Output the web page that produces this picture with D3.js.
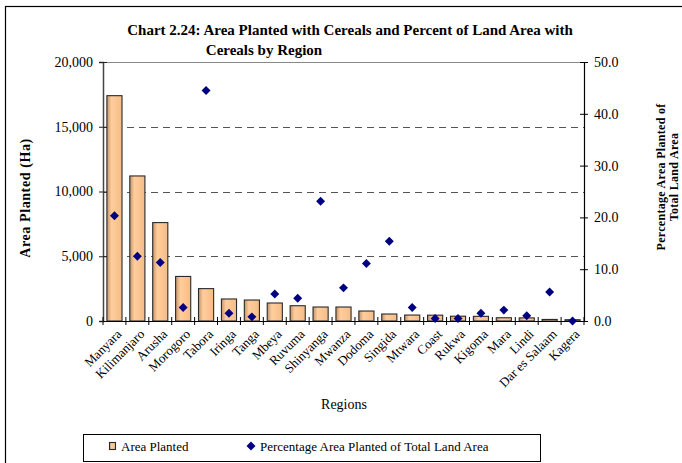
<!DOCTYPE html>
<html>
<head>
<meta charset="utf-8">
<script src="https://cdn.jsdelivr.net/npm/d3@7"></script>
<style>
  html, body { margin: 0; padding: 0; background: #fff; }
  svg { display: block; }
  text { font-family: "Liberation Serif", "Times New Roman", serif; fill: #000; }
</style>
</head>
<body>
<svg id="chart" width="682" height="463"></svg>
<script>
// Regions, ordered by area planted
const regions = ["Manyara", "Kilimanjaro", "Arusha", "Morogoro", "Tabora", "Iringa", "Tanga",
  "Mbeya", "Ruvuma", "Shinyanga", "Mwanza", "Dodoma", "Singida", "Mtwara", "Coast", "Rukwa",
  "Kigoma", "Mara", "Lindi", "Dar es Salaam", "Kagera"];

// Area planted with cereals (ha)
const areaPlanted = [17400, 11200, 7600, 3440, 2500, 1700, 1620, 1390, 1180, 1080, 1080,
  770, 540, 460, 450, 370, 360, 250, 240, 120, 100];

// Percentage of total land area planted with cereals
const pctLand = [20.3, 12.5, 11.3, 2.6, 44.5, 1.5, 0.8, 5.2, 4.4, 23.1, 6.4,
  11.1, 15.4, 2.6, 0.5, 0.5, 1.5, 2.1, 1.0, 5.6, 0.0];

const leftTicks = [0, 5000, 10000, 15000, 20000];
const rightTicks = [0, 10, 20, 30, 40, 50];

const svg = d3.select("#chart");
const W = 682, H = 463;
const plot = { left: 103, right: 584, top: 62, bottom: 321 };

svg.append("rect").attr("width", W).attr("height", H).attr("fill", "#fff");

// outer chart frame
svg.append("rect").attr("x", 5.5).attr("y", 6.5).attr("width", 720).attr("height", 520)
  .attr("fill", "none").attr("stroke", "#000").attr("stroke-width", 1.2);

// bar gradient
const defs = svg.append("defs");
const grad = defs.append("linearGradient").attr("id", "barGrad")
  .attr("x1", "0%").attr("x2", "100%").attr("y1", "0%").attr("y2", "0%");
grad.append("stop").attr("offset", "0%").attr("stop-color", "#c4946a");
grad.append("stop").attr("offset", "30%").attr("stop-color", "#ffcd9c");
grad.append("stop").attr("offset", "100%").attr("stop-color", "#f4bd88");

const x = d3.scaleBand().domain(regions).range([plot.left, plot.right]).paddingInner(0).paddingOuter(0);
const yL = d3.scaleLinear().domain([0, 20000]).range([plot.bottom, plot.top]);
const yR = d3.scaleLinear().domain([0, 50]).range([plot.bottom, plot.top]);

// gridlines
svg.append("g").selectAll("line").data(leftTicks.filter(d => d > 0 && d < 20000)).join("line")
  .attr("x1", plot.left).attr("x2", plot.right)
  .attr("y1", d => Math.round(yL(d)) + 0.5).attr("y2", d => Math.round(yL(d)) + 0.5)
  .attr("stroke", "#555").attr("stroke-width", 1).attr("stroke-dasharray", "7,5");
svg.append("line").attr("x1", plot.left).attr("x2", plot.right)
  .attr("y1", plot.top + 0.5).attr("y2", plot.top + 0.5)
  .attr("stroke", "#888").attr("stroke-width", 1.2);

// bars
const barW = x.bandwidth() * 0.66;
svg.append("g").selectAll("rect").data(regions).join("rect")
  .attr("x", (d) => x(d) + (x.bandwidth() - barW) / 2)
  .attr("y", (d, i) => yL(areaPlanted[i]))
  .attr("width", barW)
  .attr("height", (d, i) => plot.bottom - yL(areaPlanted[i]))
  .attr("fill", "url(#barGrad)")
  .attr("stroke", "#2a2a2a").attr("stroke-width", 1.1);

// left axis
const axL = d3.axisLeft(yL).tickValues(leftTicks).tickFormat(d3.format(",")).tickSize(4).tickPadding(6);
const gL = svg.append("g").attr("transform", `translate(${plot.left},0)`).call(axL);
gL.select(".domain").attr("stroke", "#444").attr("stroke-width", 1.5);
gL.selectAll(".tick line").attr("x1", -4).attr("x2", 4).attr("stroke", "#222");
gL.selectAll(".tick text").attr("font-size", 14).attr("fill", "#222")
  .style("font-family", "'Liberation Serif', serif");

// right axis
const axR = d3.axisRight(yR).tickValues(rightTicks).tickFormat(d3.format(".1f")).tickSize(4).tickPadding(6);
const gR = svg.append("g").attr("transform", `translate(${plot.right},0)`).call(axR);
gR.select(".domain").attr("stroke", "#000").attr("stroke-width", 1.2);
gR.selectAll(".tick line").attr("x1", -4).attr("x2", 4).attr("stroke", "#000");
gR.selectAll(".tick text").attr("font-size", 14).attr("fill", "#222")
  .style("font-family", "'Liberation Serif', serif");

// category axis
const axB = d3.axisBottom(x).tickSize(0).tickFormat("");
const gB = svg.append("g").attr("transform", `translate(0,${plot.bottom})`).call(axB);
gB.select(".domain").attr("stroke", "#000").attr("stroke-width", 1.2);
const boundaries = regions.map(r => x(r)).concat([plot.right]);
svg.append("g").selectAll("line").data(boundaries).join("line")
  .attr("x1", d => d).attr("x2", d => d)
  .attr("y1", plot.bottom - 4).attr("y2", plot.bottom + 4)
  .attr("stroke", "#000").attr("stroke-width", 1);

// percentage markers: square turned 45 degrees
const diamond = d3.symbol().type(d3.symbolSquare).size(40);
svg.append("g").selectAll("path").data(regions).join("path")
  .attr("d", diamond)
  .attr("transform", (d, i) => `translate(${x(d) + x.bandwidth() / 2},${yR(pctLand[i])}) rotate(45)`)
  .attr("fill", "#000080");

// category labels
svg.append("g").selectAll("text").data(regions).join("text")
  .attr("transform", d => `translate(${x(d) + x.bandwidth() / 2 + 1},${plot.bottom + 7}) rotate(-45)`)
  .attr("text-anchor", "end").attr("dy", "0.75em")
  .attr("font-size", 13).attr("fill", "#222")
  .text(d => d);

// title
svg.append("text").attr("x", 350).attr("y", 35).attr("text-anchor", "middle")
  .attr("font-size", 15).attr("font-weight", "bold")
  .text("Chart 2.24: Area Planted with Cereals and Percent of Land Area with");
svg.append("text").attr("x", 264).attr("y", 55).attr("text-anchor", "middle")
  .attr("font-size", 15).attr("font-weight", "bold")
  .text("Cereals by Region");

// axis titles
svg.append("text").attr("transform", "translate(30,198) rotate(-90)")
  .attr("text-anchor", "middle").attr("font-size", 14).attr("font-weight", "bold")
  .attr("letter-spacing", 0.6)
  .text("Area Planted (Ha)");
const rt = svg.append("text").attr("transform", "translate(665,177) rotate(-90)")
  .attr("text-anchor", "middle").attr("font-size", 12).attr("font-weight", "bold")
  .attr("letter-spacing", 0.3);
rt.append("tspan").attr("x", 0).attr("dy", 0).text("Percentage Area Planted of");
rt.append("tspan").attr("x", 0).attr("dy", 13).text("Total Land Area");

svg.append("text").attr("x", 344).attr("y", 409).attr("text-anchor", "middle")
  .attr("font-size", 14).attr("fill", "#222").text("Regions");

// legend
const lg = svg.append("g");
lg.append("rect").attr("x", 83.5).attr("y", 434.5).attr("width", 457).attr("height", 27)
  .attr("fill", "#fff").attr("stroke", "#000").attr("stroke-width", 1);
lg.append("rect").attr("x", 109.5).attr("y", 442.5).attr("width", 6).attr("height", 7)
  .attr("fill", "url(#barGrad)").attr("stroke", "#2a2a2a").attr("stroke-width", 1.1);
lg.append("text").attr("x", 121).attr("y", 451).attr("font-size", 13).attr("fill", "#222").text("Area Planted");
lg.append("path").attr("d", diamond).attr("transform", "translate(251,446) rotate(45)").attr("fill", "#000080");
lg.append("text").attr("x", 260).attr("y", 451).attr("font-size", 13).attr("fill", "#222")
  .text("Percentage Area Planted of Total Land Area");
</script>
</body>
</html>
